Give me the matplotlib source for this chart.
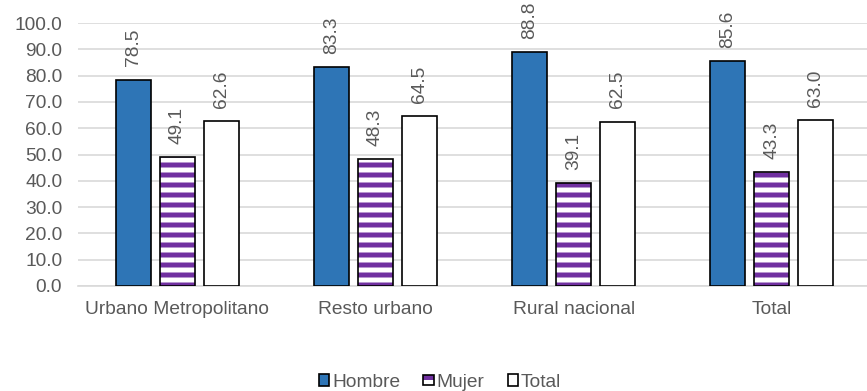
import matplotlib
matplotlib.use("Agg")
import matplotlib.pyplot as plt
import numpy as np
from matplotlib.patches import Patch, Rectangle
from matplotlib.legend_handler import HandlerBase

categories = ["Urbano Metropolitano", "Resto urbano", "Rural nacional", "Total"]
hombre = [78.5, 83.3, 88.8, 85.6]
mujer = [49.1, 48.3, 39.1, 43.3]
total = [62.6, 64.5, 62.5, 63.0]
series_names = ["Hombre", "Mujer", "Total"]
y_ticks = [0, 10, 20, 30, 40, 50, 60, 70, 80, 90, 100]

DPI = 120
W, H = 867, 391
plt.rcParams["font.family"] = ["Liberation Sans", "DejaVu Sans"]
plt.rcParams["hatch.linewidth"] = 3.0

fig = plt.figure(figsize=(W / DPI, H / DPI), dpi=DPI)
ax = fig.add_axes([78 / W, 1 - 286 / H, (W - 78) / W, (286 - 23) / H])

grey = "#595959"
blue = "#2E75B6"
purple = "#7030A0"
fs = 11.5

x = np.arange(len(categories))
bw = 0.176
off = 0.222

# Hombre
ax.bar(x - off, hombre, bw, color=blue, edgecolor="black", linewidth=1.0, zorder=3)
# Mujer: purple horizontal stripes on white, outlined separately
ax.bar(x, mujer, bw, color="white", edgecolor=purple, hatch="--", linewidth=0, zorder=3)
ax.bar(x, mujer, bw, fill=False, edgecolor="black", linewidth=1.0, zorder=4)
# Total
ax.bar(x + off, total, bw, color="white", edgecolor="black", linewidth=1.0, zorder=3)

for xs, vals in ((x - off, hombre), (x, mujer), (x + off, total)):
    for xi, v in zip(xs, vals):
        ax.annotate(f"{v:.1f}", (xi, v), xytext=(0, 8), textcoords="offset points",
                    rotation=90, ha="center", va="bottom", fontsize=fs, color=grey)

ax.set_ylim(0, 100)
ax.set_xlim(-0.5, 3.48)
ax.set_yticks(y_ticks)
ax.set_yticklabels([f"{t:.1f}" for t in y_ticks])
ax.set_xticks(x)
ax.set_xticklabels(categories)
ax.tick_params(axis="both", length=0, labelsize=fs, colors=grey)
ax.tick_params(axis="y", pad=9.5)
ax.tick_params(axis="x", pad=9)
ax.grid(axis="y", color="#D9D9D9", linewidth=1.0, zorder=0)
ax.set_axisbelow(True)
for s in ("top", "right", "left"):
    ax.spines[s].set_visible(False)
ax.spines["bottom"].set_color("#D9D9D9")
ax.spines["bottom"].set_linewidth(1.0)


class StripedKey(HandlerBase):
    """Legend key: purple upper half, white lower half, black outline."""

    def create_artists(self, legend, orig_handle, xdescent, ydescent,
                       width, height, fontsize, trans):
        s = min(width, height)
        x0 = xdescent * -1 + (width - s) / 2
        y0 = ydescent * -1 + (height - s) / 2
        bottom = Rectangle((x0, y0), s, s, facecolor="white", edgecolor="none",
                           transform=trans)
        top = Rectangle((x0, y0 + s * 0.5), s, s * 0.5, facecolor=purple,
                        edgecolor="none", transform=trans)
        frame = Rectangle((x0, y0), s, s, fill=False, edgecolor="black",
                          linewidth=1.0, transform=trans)
        return [bottom, top, frame]


mujer_key = Patch(facecolor="white", edgecolor="black")
handles = [
    Patch(facecolor=blue, edgecolor="black", linewidth=1.0),
    mujer_key,
    Patch(facecolor="white", edgecolor="black", linewidth=1.0),
]
leg = fig.legend(handles, series_names, loc="center", bbox_to_anchor=(440 / W, 1 - 382.5 / H),
                 ncol=3, frameon=False, fontsize=fs, handlelength=0.55, handleheight=0.55,
                 handletextpad=0.15, columnspacing=1.2, borderaxespad=0,
                 handler_map={mujer_key: StripedKey()})
for t in leg.get_texts():
    t.set_color(grey)

fig.savefig("out.png", dpi=DPI)
